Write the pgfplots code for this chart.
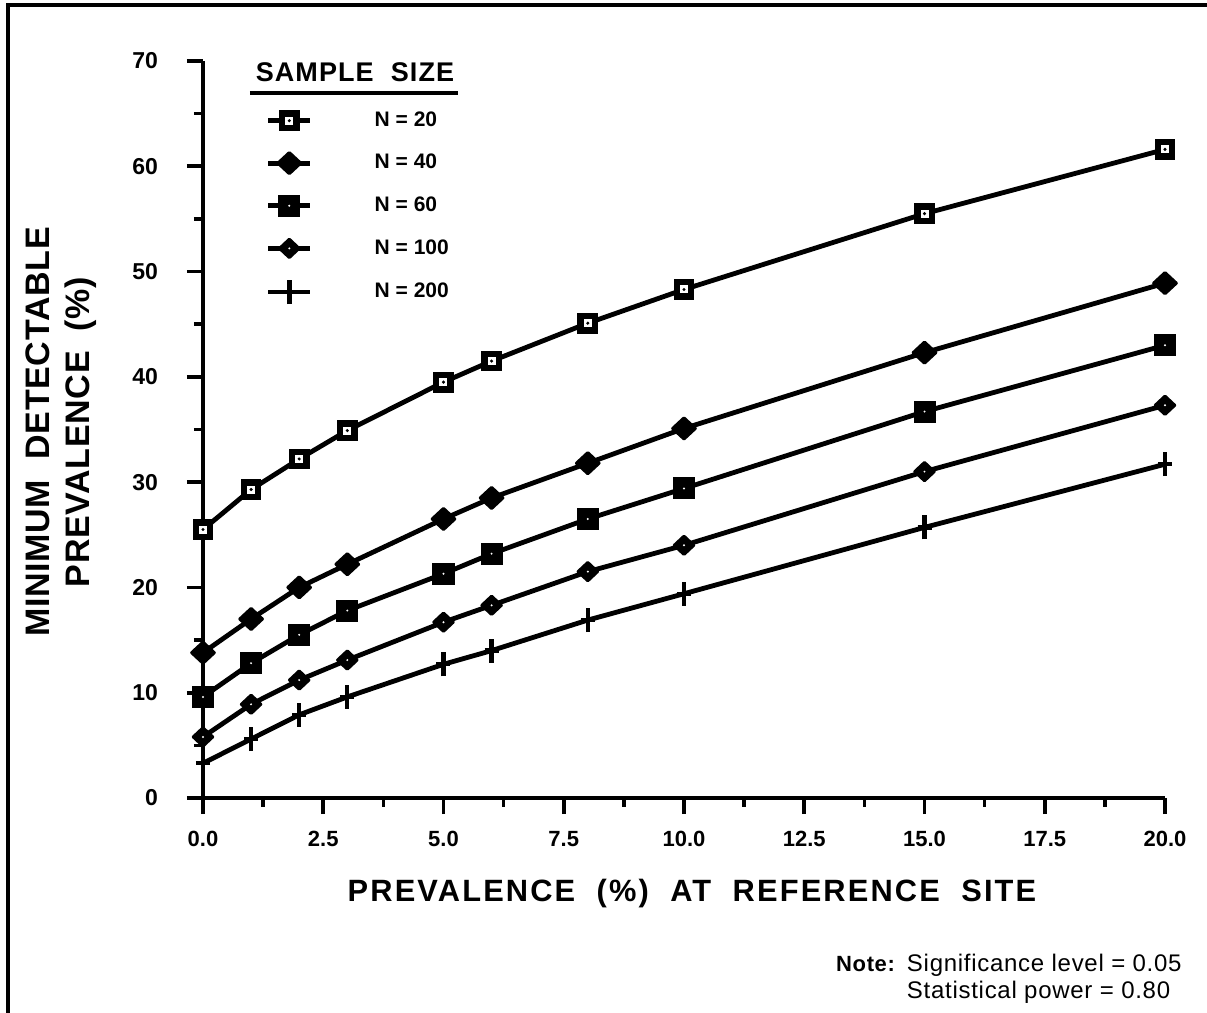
\documentclass[border=0pt]{standalone}
\usepackage{fontspec}
\setmainfont{Liberation Sans}
\usepackage{pgfplots}
\pgfplotsset{compat=1.18}

% marks of the five sample sizes
\pgfdeclareplotmark{sqo}{%
  \pgfsetfillcolor{black}%
  \pgfpathrectangle{\pgfqpoint{-5.2pt}{-5.2pt}}{\pgfqpoint{10.4pt}{10.4pt}}\pgfusepathqfill
  \pgfsetfillcolor{white}%
  \pgfpathrectangle{\pgfqpoint{-2pt}{-2pt}}{\pgfqpoint{4pt}{4pt}}\pgfusepathqfill
  \pgfsetfillcolor{black}%
  \pgfpathcircle{\pgfpointorigin}{0.85pt}\pgfusepathqfill}
\pgfdeclareplotmark{dmd}{%
  \pgfsetfillcolor{black}\pgfsetroundjoin\pgfsetlinewidth{1.6pt}%
  \pgfpathmoveto{\pgfqpoint{0pt}{5.2pt}}\pgfpathlineto{\pgfqpoint{5.6pt}{0pt}}%
  \pgfpathlineto{\pgfqpoint{0pt}{-5.2pt}}\pgfpathlineto{\pgfqpoint{-5.6pt}{0pt}}%
  \pgfpathclose\pgfusepathqfillstroke}
\pgfdeclareplotmark{sqf}{%
  \pgfsetfillcolor{black}%
  \pgfpathrectangle{\pgfqpoint{-5.5pt}{-5.5pt}}{\pgfqpoint{11pt}{11pt}}\pgfusepathqfill
  \pgfsetfillcolor{white}%
  \pgfpathcircle{\pgfpointorigin}{0.55pt}\pgfusepathqfill}
\pgfdeclareplotmark{dmdw}{%
  \pgfsetfillcolor{black}\pgfsetroundjoin\pgfsetlinewidth{1.6pt}%
  \pgfpathmoveto{\pgfqpoint{0pt}{4.5pt}}\pgfpathlineto{\pgfqpoint{4.8pt}{0pt}}%
  \pgfpathlineto{\pgfqpoint{0pt}{-4.5pt}}\pgfpathlineto{\pgfqpoint{-4.8pt}{0pt}}%
  \pgfpathclose\pgfusepathqfillstroke
  \pgfsetfillcolor{white}%
  \pgfpathcircle{\pgfpointorigin}{0.55pt}\pgfusepathqfill}
\pgfdeclareplotmark{pls}{%
  \pgfsetlinewidth{2.2pt}%
  \pgfpathmoveto{\pgfqpoint{0pt}{-6pt}}\pgfpathlineto{\pgfqpoint{0pt}{6pt}}\pgfusepathqstroke
  \pgfpathmoveto{\pgfqpoint{-3.5pt}{0pt}}\pgfpathlineto{\pgfqpoint{3.5pt}{0pt}}\pgfusepathqstroke}

\begin{document}
\begin{tikzpicture}
\useasboundingbox (-101.5pt,-107.5pt) rectangle (502pt,399pt);
% frame of the figure (top and left edges)
\draw[line width=1.8pt] (-97.5pt,-107.5pt) -- (-97.5pt,396.5pt) -- (502pt,396.5pt);

\begin{axis}[
    scale only axis,
    width=481pt, height=368.5pt,
    xmin=0, xmax=20, ymin=0, ymax=70,
    axis x line=bottom, axis y line=left,
    axis line style={-, line width=2pt},
    xtick={0,2.5,...,20}, ytick={0,10,...,70},
    minor x tick num=1, minor y tick num=1,
    tick align=outside,
    major tick length=8pt, minor tick length=4.5pt,
    tick style={black, line width=1.8pt},
    /pgf/number format/assume math mode=true,
    xticklabel style={font=\bfseries\fontsize{11}{12}\selectfont, yshift=-5pt,
        /pgf/number format/.cd, fixed, fixed zerofill, precision=1},
    yticklabel style={font=\bfseries\fontsize{11.5}{13}\selectfont, xshift=-11pt,
        /pgf/number format/.cd, fixed, precision=0},
    clip=false,
    every axis plot/.append style={black, line width=2.4pt},
    legend image code/.code={\draw[mark repeat=2, mark phase=2]
        plot coordinates {(0pt,0pt) (10.5pt,0pt) (21pt,0pt)};},
    legend style={at={(axis cs:1.3,65.4)}, anchor=north west,
        draw=none, fill=none, inner sep=0pt, row sep=10.4pt,
        font=\bfseries\fontsize{10.5}{12}\selectfont,
        nodes={inner sep=1pt}},
    legend cell align=left,
]
\addplot[mark=sqo] coordinates {
    (0,25.5) (1,29.3) (2,32.2) (3,34.9) (5,39.5) (6,41.5) (8,45.1) (10,48.3) (15,55.5) (20,61.6)
};
\addlegendentry{\hspace*{30pt}N = 20}
\addplot[mark=dmd] coordinates {
    (0,13.8) (1,17.0) (2,20.0) (3,22.2) (5,26.5) (6,28.5) (8,31.8) (10,35.1) (15,42.3) (20,48.9)
};
\addlegendentry{\hspace*{30pt}N = 40}
\addplot[mark=sqf] coordinates {
    (0,9.6) (1,12.8) (2,15.5) (3,17.8) (5,21.3) (6,23.2) (8,26.5) (10,29.4) (15,36.7) (20,43.0)
};
\addlegendentry{\hspace*{30pt}N = 60}
\addplot[mark=dmdw] coordinates {
    (0,5.8) (1,8.9) (2,11.2) (3,13.1) (5,16.7) (6,18.3) (8,21.5) (10,24.0) (15,31.0) (20,37.3)
};
\addlegendentry{\hspace*{30pt}N = 100}
\addplot[mark=pls] coordinates {
    (0,3.3) (1,5.6) (2,7.9) (3,9.6) (5,12.7) (6,14.0) (8,16.9) (10,19.4) (15,25.7) (20,31.7)
};
\addlegendentry{\hspace*{30pt}N = 200}
\end{axis}

% legend title, underlined
\node[font=\bfseries\fontsize{13.5}{15}\selectfont\addfontfeatures{LetterSpace=4}]
    at (76pt,363pt) {SAMPLE\ \ SIZE};
\draw[line width=1.6pt] (23.5pt,352.5pt) -- (127.5pt,352.5pt);

% axis titles
\node[rotate=90, align=center,
      font=\bfseries\fontsize{17}{20}\selectfont\addfontfeatures{LetterSpace=2}]
    at (-71pt,183pt) {MINIMUM\ \ DETECTABLE\\PREVALENCE\ \ (\%)};
\node[font=\bfseries\fontsize{15.4}{18}\selectfont\addfontfeatures{LetterSpace=7}]
    at (244.5pt,-48pt) {PREVALENCE\ \ (\%)\ \ AT\ \ REFERENCE\ \ SITE};

% note
\node[anchor=north east, inner sep=0pt, font=\fontsize{12}{13.5}\selectfont\addfontfeatures{LetterSpace=3}]
    at (489.5pt,-77pt)
    {\begin{tabular}{@{}l@{\hspace{6pt}}l@{}}{\bfseries\fontsize{11}{13.5}\selectfont Note:} & Significance level = 0.05\\
     & Statistical power = 0.80\end{tabular}};
\end{tikzpicture}
\end{document}
